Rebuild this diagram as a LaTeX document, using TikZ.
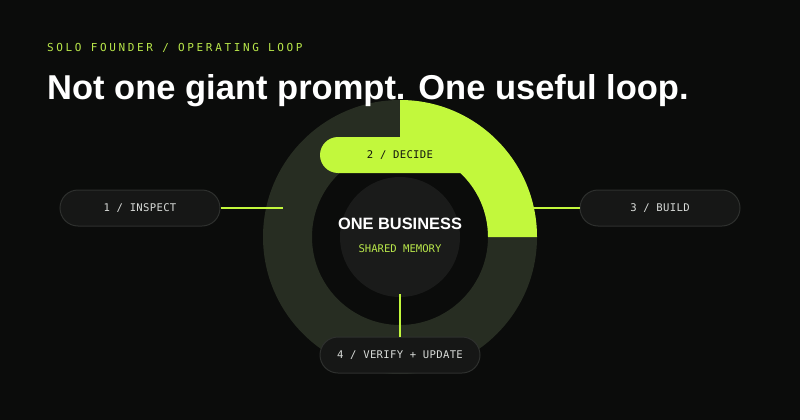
\documentclass[tikz,border=0pt]{standalone}
\usepackage{fontspec}
\usetikzlibrary{calc}
\setmainfont{Liberation Sans}
\setmonofont{DejaVu Sans Mono}
\newfontfamily\spacedmono[LetterSpace=24]{DejaVu Sans Mono}
\newfontfamily\pillmono[LetterSpace=3]{DejaVu Sans Mono}
\definecolor{bgcol}{HTML}{0B0C0B}
\definecolor{ringcol}{HTML}{272D22}
\definecolor{corecol}{HTML}{1A1B1A}
\definecolor{accent}{HTML}{C2F83C}
\definecolor{softgreen}{HTML}{B8E64A}
\definecolor{pillfill}{HTML}{161716}
\definecolor{pillline}{HTML}{2E302E}
\definecolor{pilltext}{HTML}{D9DCD9}
\definecolor{darktext}{HTML}{12150E}
\begin{document}
\begin{tikzpicture}[x=1pt,y=-1pt,
  pill/.style={rounded corners=18pt, minimum width=160pt, minimum height=36pt,
    inner sep=0pt, fill=pillfill, draw=pillline, line width=1pt,
    text=pilltext, font=\pillmono\fontsize{10.6}{12}\selectfont},
  decidepill/.style={pill, fill=accent, draw=none, text=darktext},
  link/.style={draw=accent, line width=2pt}
]
\useasboundingbox (0,0) rectangle (800,420);
\fill[bgcol] (0,0) rectangle (800,420);
\coordinate (c) at (400,237);
% ring
\fill[ringcol, even odd rule] (c) circle[radius=137] (c) circle[radius=88];
% green progress arc
\fill[accent] ($(c)+(-90:137)$) arc[start angle=-90, end angle=0, radius=137]
  -- ++(-49,0) arc[start angle=0, end angle=-90, radius=88] -- cycle;
% core
\fill[corecol] (c) circle[radius=60];
% titles
\node[anchor=base west, inner sep=0pt, text=softgreen,
  font=\spacedmono\fontsize{11}{13}\selectfont] (kicker) at (47,52)
  {SOLO FOUNDER / OPERATING LOOP};
\node[anchor=base west, inner sep=0pt, text=white,
  font=\bfseries\fontsize{34.5}{40}\selectfont] (title) at (47,99)
  {Not one giant prompt. One useful loop.};
% pills
\node[pill] (inspect) at (140,208) {1 / INSPECT};
\node[pill] (build) at (660,208) {3 / BUILD};
\node[pill] (verify) at (400,355) {4 / VERIFY + UPDATE};
\node[decidepill] (decide) at (400,155) {2 / DECIDE};
% connectors
\coordinate (leftend) at (283,208);
\coordinate (rightend) at (534,208);
\coordinate (bottomend) at (400,294);
\draw[link] (inspect.east) -- (leftend);
\draw[link] (rightend) -- (build.west);
\draw[link] (bottomend) -- (verify.north);
% core text
\node[anchor=base, inner sep=0pt, text=white,
  font=\bfseries\fontsize{16.4}{19}\selectfont] (business) at (400,229) {ONE BUSINESS};
\node[anchor=base, inner sep=0pt, text=softgreen,
  font=\ttfamily\fontsize{10.6}{12}\selectfont] (memory) at (400,252) {SHARED MEMORY};
\end{tikzpicture}
\end{document}
